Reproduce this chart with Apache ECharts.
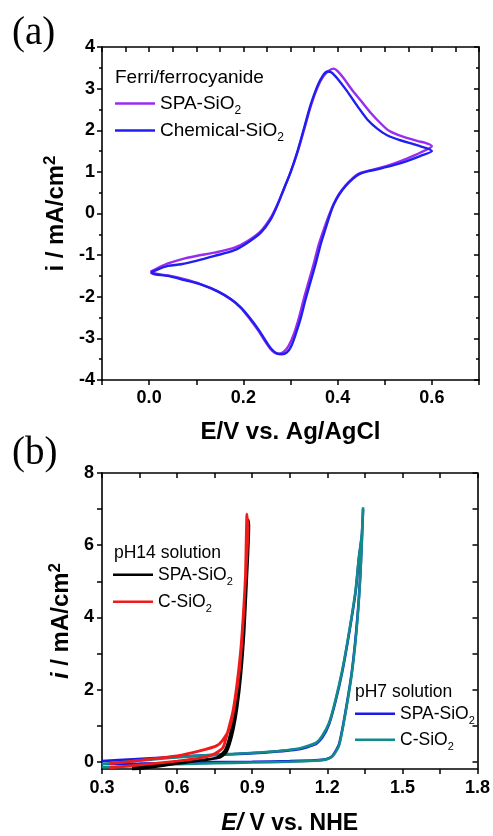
<!DOCTYPE html>
<html><head><meta charset="utf-8">
<script src="https://cdn.jsdelivr.net/npm/echarts@6/dist/echarts.min.js"></script>
<style>html,body{margin:0;padding:0;background:#fff}#c{width:493px;height:836px}</style>
</head><body><div id="c"></div>
<script>
// ---- Panel (a): CV in ferri/ferrocyanide ----
const cvSpaE = [0.003,0.02,0.04,0.068,0.1,0.139,0.181,0.209,0.237,0.258,0.273,0.287,0.301,0.315,0.329,0.343,0.357,0.37,0.383,0.392,0.4,0.412,0.43,0.45,0.47,0.49,0.51,0.54,0.57,0.585,0.6,
  0.575,0.547,0.519,0.491,0.463,0.445,0.431,0.417,0.403,0.392,0.383,0.372,0.36,0.35,0.339,0.328,0.318,0.307,0.296,0.286,0.276,0.267,0.258,0.246,0.232,0.214,0.194,0.173,0.145,0.11,0.075,0.04,0.012,0.003];
const cvSpaI = [-1.40,-1.3,-1.2,-1.1,-1.02,-0.94,-0.82,-0.66,-0.42,-0.1,0.24,0.62,1.02,1.48,2.02,2.58,3.02,3.3,3.44,3.48,3.42,3.26,2.98,2.7,2.42,2.18,1.98,1.84,1.74,1.7,1.62,
  1.46,1.32,1.2,1.1,1.02,0.96,0.84,0.68,0.47,0.24,0.0,-0.34,-0.74,-1.18,-1.62,-2.06,-2.5,-2.9,-3.18,-3.32,-3.37,-3.35,-3.26,-3.07,-2.82,-2.54,-2.26,-2.06,-1.87,-1.7,-1.58,-1.49,-1.44,-1.40];
const cvChemE = [0.0035,0.019,0.04,0.068,0.1,0.139,0.181,0.209,0.237,0.258,0.273,0.287,0.301,0.315,0.329,0.343,0.357,0.368,0.378,0.387,0.399,0.42,0.442,0.463,0.484,0.505,0.533,0.568,0.6,
  0.575,0.547,0.519,0.491,0.463,0.445,0.431,0.417,0.403,0.392,0.384,0.375,0.364,0.354,0.343,0.332,0.322,0.311,0.301,0.292,0.281,0.271,0.26,0.248,0.234,0.216,0.195,0.174,0.146,0.111,0.075,0.04,0.012,0.0035];
const cvChemI = [-1.416,-1.34,-1.26,-1.22,-1.14,-1.02,-0.88,-0.70,-0.46,-0.14,0.22,0.62,1.02,1.5,2.06,2.62,3.06,3.30,3.41,3.39,3.25,2.94,2.58,2.26,2.04,1.88,1.76,1.64,1.5,
  1.38,1.26,1.16,1.08,1.01,0.94,0.82,0.66,0.45,0.22,-0.02,-0.34,-0.74,-1.18,-1.62,-2.06,-2.5,-2.9,-3.2,-3.34,-3.38,-3.36,-3.26,-3.07,-2.82,-2.54,-2.26,-2.06,-1.87,-1.71,-1.6,-1.5,-1.46,-1.42];

// ---- Panel (b): LSV ----
const ph14SpaE = [0.42,0.5,0.6,0.7,0.76,0.79,0.81,0.83,0.85,0.865,0.877,0.885,0.887,0.878,0.868,0.855,0.84,0.825,0.81,0.795,0.77,0.7,0.6,0.5,0.42];
const ph14SpaI = [-0.22,-0.15,-0.05,0.04,0.12,0.3,0.7,1.4,2.5,3.9,5.3,6.7,6.5,5.0,3.6,2.4,1.5,0.9,0.5,0.25,0.12,0.05,-0.02,-0.1,-0.18];
const ph14CE = [0.33,0.4,0.49,0.6,0.69,0.744,0.783,0.803,0.823,0.839,0.856,0.87,0.883,0.879,0.873,0.863,0.85,0.83,0.81,0.78,0.757,0.69,0.6,0.5,0.4,0.33];
const ph14CI = [-0.17,-0.12,-0.06,0.02,0.1,0.2,0.39,0.85,1.4,2.14,3.24,4.7,6.44,6.86,5.16,3.79,2.6,1.59,0.94,0.58,0.44,0.3,0.16,0.08,0.0,-0.05];
const ph7SpaE = [0.3,0.45,0.6,0.75,0.9,1.05,1.15,1.194,1.22,1.247,1.273,1.3,1.32,1.333,1.343,1.338,1.326,1.313,1.286,1.26,1.233,1.207,1.18,1.154,1.088,0.955,0.823,0.69,0.558,0.426,0.3];
const ph7SpaI = [-0.06,-0.05,-0.03,-0.01,0.0,0.02,0.04,0.07,0.16,0.49,1.4,2.6,3.97,5.34,7.0,6.26,5.62,4.7,3.51,2.5,1.68,1.04,0.67,0.49,0.35,0.26,0.21,0.17,0.12,0.07,0.02];
const ph7CE = [0.3,0.45,0.6,0.75,0.9,1.05,1.15,1.194,1.22,1.247,1.273,1.3,1.32,1.333,1.343,1.338,1.326,1.313,1.286,1.26,1.233,1.207,1.18,1.154,1.088,0.955,0.823,0.69,0.558,0.426,0.3];
const ph7CI = [-0.15,-0.11,-0.07,-0.04,-0.02,0.0,0.03,0.06,0.14,0.45,1.36,2.55,3.9,5.3,7.05,6.3,5.65,4.75,3.55,2.55,1.72,1.08,0.72,0.52,0.37,0.27,0.22,0.17,0.1,0.02,-0.06];
const bYLabels = [0, 2, 4, 6, 8];
const bYTicks = [0, 1, 2, 3, 4, 5, 6, 7, 8];

const pairs = (xs, ys) => xs.map((x, i) => [x, ys[i]]);

const chart = echarts.init(document.getElementById('c'), null, {renderer: 'canvas'});
const F = 'Liberation Sans, Arial, sans-serif';
const SERIF = 'Liberation Serif, Times New Roman, serif';
const axisLine = {show: true, onZero: false, lineStyle: {color: '#000', width: 1.6}};
const tickStyle = {width: 1.5, color: '#000'};
const lblStyle = {fontFamily: F, fontSize: 18, fontWeight: 'bold', color: '#000'};

function oneLegend(name, label, left, top, fs) {
  const lh = fs + 4;
  return {
    data: [name], left: left, top: top, padding: 0,
    itemWidth: 40, itemHeight: 2.5, icon: 'rect', itemGap: 7,
    formatter: () => '{t|' + label + '}{s|2}',
    textStyle: {lineHeight: lh, rich: {
      t: {fontFamily: F, fontSize: fs, color: '#000', lineHeight: lh},
      s: {fontFamily: F, fontSize: Math.round(fs * 0.62), color: '#000', verticalAlign: 'bottom', lineHeight: lh + 4}
    }}
  };
}
function header(text, left, top, fs) {
  return {text: text, left: left, top: top, padding: 0,
    textStyle: {fontFamily: F, fontSize: fs, fontWeight: 'normal', color: '#000'}};
}

const option = {
  animation: false,
  title: [
    {text: '(a)', left: 12, top: 14, padding: 0, textStyle: {fontFamily: SERIF, fontSize: 39, fontWeight: 'normal', color: '#000'}},
    {text: '(b)', left: 12, top: 434, padding: 0, textStyle: {fontFamily: SERIF, fontSize: 39, fontWeight: 'normal', color: '#000'}},
    header('Ferri/ferrocyanide', 115, 68, 19),
    header('pH14 solution', 114, 544, 17.5),
    header('pH7 solution', 355, 683, 17.5)
  ],
  legend: [
    oneLegend('SPA-SiO2', 'SPA-SiO', 115, 90, 19),
    oneLegend('Chemical-SiO2', 'Chemical-SiO', 115, 117, 19),
    oneLegend('SPA-SiO2 (pH14)', 'SPA-SiO', 113, 562, 17.5),
    oneLegend('C-SiO2 (pH14)', 'C-SiO', 113, 589, 17.5),
    oneLegend('SPA-SiO2 (pH7)', 'SPA-SiO', 355, 701, 17.5),
    oneLegend('C-SiO2 (pH7)', 'C-SiO', 355, 727, 17.5)
  ],
  grid: [
    {left: 102, top: 47, width: 377, height: 333},
    {left: 102, top: 473, width: 377, height: 298}
  ],
  xAxis: [
    {gridIndex: 0, type: 'value', min: -0.1, max: 0.7, interval: 0.1, axisLine: axisLine,
     axisTick: {show: true, inside: false, length: 5, lineStyle: tickStyle},
     axisLabel: Object.assign({margin: 9, formatter: v => {const k = Math.round(v * 10); return (k >= 0 && k <= 6 && k % 2 === 0) ? (k / 10).toFixed(1) : '';}}, lblStyle),
     splitLine: {show: false},
     name: 'E/V vs. Ag/AgCl', nameLocation: 'middle', nameGap: 40,
     nameTextStyle: {fontFamily: F, fontSize: 24, fontWeight: 'bold', color: '#000'}},
    {gridIndex: 0, type: 'value', position: 'top', min: -0.1, max: 0.7, interval: 0.1, axisLine: axisLine,
     axisTick: {show: true, inside: true, length: 5, lineStyle: tickStyle},
     minorTick: {show: true, splitNumber: 2, length: 5, lineStyle: tickStyle},
     axisLabel: {show: false}, splitLine: {show: false}},
    {gridIndex: 1, type: 'value', min: 0.3, max: 1.8, interval: 0.3, axisLine: axisLine,
     axisTick: {show: true, inside: false, length: 5, lineStyle: tickStyle},
     minorTick: {show: true, splitNumber: 2, length: 5, lineStyle: tickStyle},
     axisLabel: Object.assign({margin: 10, formatter: v => v.toFixed(1)}, lblStyle),
     splitLine: {show: false},
     name: '{i|E/} V vs. NHE', nameLocation: 'middle', nameGap: 43,
     nameTextStyle: {fontFamily: F, fontSize: 23, fontWeight: 'bold', color: '#000',
       rich: {i: {fontFamily: F, fontSize: 23, fontWeight: 'bold', fontStyle: 'italic', color: '#000'}}}},
    {gridIndex: 1, type: 'value', position: 'top', min: 0.3, max: 1.8, interval: 0.3, axisLine: axisLine,
     axisTick: {show: true, inside: true, length: 5, lineStyle: tickStyle},
     minorTick: {show: true, splitNumber: 2, length: 5, lineStyle: tickStyle},
     axisLabel: {show: false}, splitLine: {show: false}}
  ],
  yAxis: [
    {gridIndex: 0, type: 'value', min: -4, max: 4, interval: 1, axisLine: axisLine,
     axisTick: {show: true, inside: false, length: 5, lineStyle: tickStyle},
     minorTick: {show: true, splitNumber: 2, length: 3, lineStyle: tickStyle},
     axisLabel: Object.assign({margin: 7}, lblStyle),
     splitLine: {show: false},
     name: 'i / mA/cm{sup|2}', nameLocation: 'middle', nameGap: 27,
     nameTextStyle: {fontFamily: F, fontSize: 24, fontWeight: 'bold', color: '#000',
       rich: {sup: {fontFamily: F, fontSize: 17, fontWeight: 'bold', color: '#000', verticalAlign: 'top', lineHeight: 28}}}},
    {gridIndex: 0, type: 'value', position: 'right', min: -4, max: 4, interval: 1, axisLine: axisLine,
     axisTick: {show: true, inside: true, length: 5, lineStyle: tickStyle},
     minorTick: {show: true, splitNumber: 2, length: 3, lineStyle: tickStyle},
     axisLabel: {show: false}, splitLine: {show: false}},
    {gridIndex: 1, type: 'value', min: -0.2, max: 8, axisLine: axisLine,
     axisTick: {show: true, inside: false, length: 5, customValues: bYTicks, lineStyle: tickStyle},
     axisLabel: Object.assign({margin: 8, customValues: bYLabels}, lblStyle),
     splitLine: {show: false},
     name: '{i|i} / mA/cm{sup|2}', nameLocation: 'middle', nameGap: 27,
     nameTextStyle: {fontFamily: F, fontSize: 24, fontWeight: 'bold', color: '#000',
       rich: {i: {fontFamily: F, fontSize: 24, fontWeight: 'bold', fontStyle: 'italic', color: '#000'},
              sup: {fontFamily: F, fontSize: 17, fontWeight: 'bold', color: '#000', verticalAlign: 'top', lineHeight: 28}}}},
    {gridIndex: 1, type: 'value', position: 'right', min: -0.2, max: 8, axisLine: axisLine,
     axisTick: {show: true, inside: true, length: 5, customValues: bYTicks, lineStyle: tickStyle},
     axisLabel: {show: false}, splitLine: {show: false}}
  ],
  series: [
    {name: 'SPA-SiO2', type: 'line', xAxisIndex: 0, yAxisIndex: 0, data: pairs(cvSpaE, cvSpaI), showSymbol: false, smooth: 0.3, lineStyle: {color: '#9a2cf0', width: 2.4}, itemStyle: {color: '#9a2cf0'}},
    {name: 'Chemical-SiO2', type: 'line', xAxisIndex: 0, yAxisIndex: 0, data: pairs(cvChemE, cvChemI), showSymbol: false, smooth: 0.3, lineStyle: {color: '#1f1ff2', width: 2.4}, itemStyle: {color: '#1f1ff2'}},
    {name: 'SPA-SiO2 (pH7)', type: 'line', xAxisIndex: 2, yAxisIndex: 2, data: pairs(ph7SpaE, ph7SpaI), showSymbol: false, smooth: 0.2, lineStyle: {color: '#1a1ae6', width: 2.6}, itemStyle: {color: '#1a1ae6'}},
    {name: 'C-SiO2 (pH7)', type: 'line', xAxisIndex: 2, yAxisIndex: 2, data: pairs(ph7CE, ph7CI), showSymbol: false, smooth: 0.2, lineStyle: {color: '#138a8a', width: 2.6}, itemStyle: {color: '#138a8a'}},
    {name: 'SPA-SiO2 (pH14)', type: 'line', xAxisIndex: 2, yAxisIndex: 2, data: pairs(ph14SpaE, ph14SpaI), showSymbol: false, smooth: 0.2, lineStyle: {color: '#000', width: 2.6}, itemStyle: {color: '#000'}},
    {name: 'C-SiO2 (pH14)', type: 'line', xAxisIndex: 2, yAxisIndex: 2, data: pairs(ph14CE, ph14CI), showSymbol: false, smooth: 0.2, lineStyle: {color: '#f01a1a', width: 2.8}, itemStyle: {color: '#f01a1a'}}
  ]
};
chart.setOption(option);
</script></body></html>
